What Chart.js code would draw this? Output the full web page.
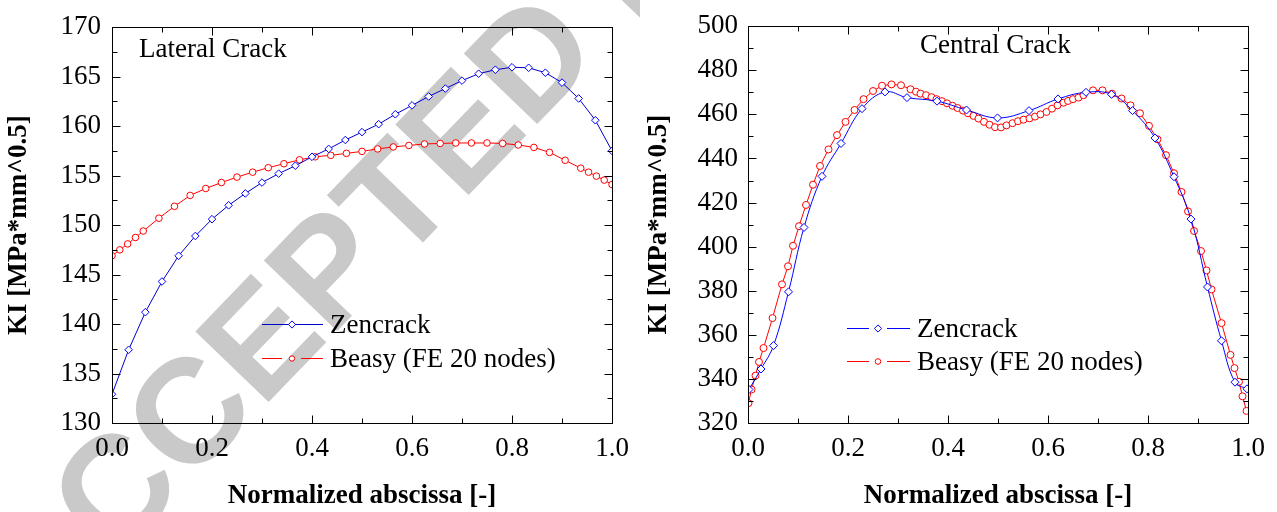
<!DOCTYPE html>
<html>
<head>
<meta charset="utf-8">
<script src="https://cdn.jsdelivr.net/npm/chart.js@4.4.1/dist/chart.umd.min.js"></script>
<style>
  html, body { margin: 0; padding: 0; background: #fff; }
  #wrap { position: relative; width: 1277px; height: 512px; overflow: hidden; background: #fff; }
  #wrap canvas { position: absolute; top: 0; }
</style>
</head>
<body>
<div id="wrap">
  <canvas id="lateral" width="640" height="512" style="left:0px"></canvas>
  <canvas id="central" width="637" height="512" style="left:640px"></canvas>
</div>
<script>
// ---- Lateral crack: KI along the normalized crack front ----
const lateralZencrackX = [0, 0.0333, 0.0667, 0.1, 0.1333, 0.1667, 0.2, 0.2333, 0.2667, 0.3, 0.3333,
  0.3667, 0.4, 0.4333, 0.4667, 0.5, 0.5333, 0.5667, 0.6, 0.6333, 0.6667, 0.7, 0.7333, 0.7667, 0.8,
  0.8333, 0.8667, 0.9, 0.9333, 0.9667, 1.0];
const lateralZencrackKI = [132.9, 137.4, 141.2, 144.3, 146.9, 148.9, 150.6, 152.0, 153.2, 154.3, 155.2,
  156.0, 156.9, 157.7, 158.6, 159.4, 160.2, 161.2, 162.1, 163.0, 163.8, 164.6, 165.3, 165.7, 165.95,
  165.9, 165.4, 164.4, 162.8, 160.6, 157.5];

const lateralBeasyX = [0, 0.0156, 0.0313, 0.0469, 0.0625, 0.0938, 0.125, 0.1563, 0.1875, 0.2188, 0.25,
  0.2813, 0.3125, 0.3438, 0.375, 0.4063, 0.4375, 0.4688, 0.5, 0.5313, 0.5625, 0.5938, 0.625, 0.6563,
  0.6875, 0.7188, 0.75, 0.7813, 0.8125, 0.8438, 0.875, 0.9063, 0.9375, 0.9531, 0.9688, 0.9844, 1.0];
const lateralBeasyKI = [146.9, 147.5, 148.1, 148.75, 149.4, 150.7, 151.9, 153.0, 153.7, 154.3, 154.85,
  155.35, 155.8, 156.2, 156.6, 156.9, 157.05, 157.25, 157.45, 157.7, 157.9, 158.05, 158.2, 158.25,
  158.3, 158.3, 158.3, 158.25, 158.1, 157.85, 157.35, 156.55, 155.75, 155.35, 154.95, 154.55, 154.1];

// ---- Central crack ----
const centralZencrackX = [0.002, 0.026, 0.051, 0.081, 0.112, 0.148, 0.186, 0.228, 0.274, 0.318, 0.378,
  0.437, 0.499, 0.562, 0.620, 0.676, 0.727, 0.769, 0.814, 0.852, 0.886, 0.919, 0.947, 0.974, 0.998];
const centralZencrackKI = [335.2, 344.5, 355.1, 379.5, 408.7, 431.9, 446.8, 462.6, 470.2, 467.6, 466.0,
  462.0, 458.4, 461.7, 467.0, 470.0, 469.1, 461.7, 449.3, 431.7, 412.5, 381.7, 357.3, 338.5, 335.5];

const centralBeasyX = [0.001, 0.007, 0.015, 0.022, 0.031, 0.049, 0.068, 0.080, 0.090, 0.102, 0.116,
  0.130, 0.144, 0.161, 0.178, 0.195, 0.213, 0.231, 0.250, 0.268, 0.287, 0.306, 0.325, 0.336, 0.345,
  0.356, 0.367, 0.377, 0.388, 0.398, 0.409, 0.419, 0.430, 0.440, 0.451, 0.461, 0.472, 0.483, 0.494,
  0.506, 0.517, 0.529, 0.540, 0.551, 0.563, 0.574, 0.585, 0.597, 0.608, 0.619, 0.631, 0.640, 0.650,
  0.661, 0.671, 0.690, 0.709, 0.728, 0.747, 0.765, 0.784, 0.802, 0.819, 0.836, 0.852, 0.867, 0.880,
  0.892, 0.906, 0.917, 0.927, 0.947, 0.965, 0.973, 0.982, 0.989, 0.997];
const centralBeasyKI = [329.0, 335.2, 341.5, 347.7, 354.0, 367.6, 382.9, 391.1, 400.4, 409.3, 418.9,
  428.1, 436.6, 444.1, 450.6, 456.6, 462.0, 466.9, 470.6, 473.0, 473.6, 473.2, 471.4, 470.3, 469.4,
  468.7, 467.8, 466.9, 466.0, 465.0, 463.9, 462.9, 461.7, 460.5, 459.3, 458.1, 456.6, 455.3, 454.2,
  454.1, 455.0, 456.0, 456.9, 457.6, 458.2, 459.0, 460.0, 461.1, 462.6, 464.1, 465.3, 466.1, 466.9,
  467.6, 468.7, 470.9, 470.9, 469.4, 467.2, 464.1, 460.5, 454.8, 448.7, 441.5, 433.3, 424.8, 416.0,
  407.1, 398.0, 389.2, 380.6, 365.3, 350.9, 344.9, 338.7, 332.1, 325.5];

const seriesNames = ['Zencrack', 'Beasy (FE 20 nodes)'];
const xTitle = 'Normalized abscissa [-]';
const yTitle = 'KI [MPa*mm^0.5]';

const SERIF = '"Liberation Serif", "Times New Roman", Times, serif';
const BLUE = '#0000ff';
const RED = '#ff0000';

const pairs = (xs, ys) => xs.map((x, i) => ({ x, y: ys[i] }));

// Inward major/minor tick marks on all four sides plus the closed frame
const frameTicks = {
  id: 'frameTicks',
  afterDatasetsDraw(chart) {
    const { ctx, chartArea: a, scales: { x, y } } = chart;
    const L = Math.round(a.left) + 0.5, R = Math.round(a.right) + 0.5;
    const T = Math.round(a.top) + 0.5, B = Math.round(a.bottom) + 0.5;
    const marks = (scale) => {
      const vals = scale.ticks.map(t => t.value);
      const out = [];
      vals.forEach((v, i) => {
        out.push([scale.getPixelForValue(v), 8]);
        if (i < vals.length - 1) out.push([scale.getPixelForValue((v + vals[i + 1]) / 2), 5]);
      });
      return out;
    };
    ctx.save();
    ctx.strokeStyle = '#000';
    ctx.lineWidth = 1;
    ctx.beginPath();
    marks(x).forEach(([p, len]) => {
      const px = Math.round(p) + 0.5;
      ctx.moveTo(px, B); ctx.lineTo(px, B - len);
      ctx.moveTo(px, T); ctx.lineTo(px, T + len);
    });
    marks(y).forEach(([p, len]) => {
      const py = Math.round(p) + 0.5;
      ctx.moveTo(L, py); ctx.lineTo(L + len, py);
      ctx.moveTo(R, py); ctx.lineTo(R - len, py);
    });
    ctx.stroke();
    ctx.strokeRect(L, T, R - L, B - T);
    ctx.restore();
  }
};

// Panel caption and symbol legend drawn inside the plot
const panelNotes = {
  id: 'panelNotes',
  afterDraw(chart, args, opts) {
    const ctx = chart.ctx;
    ctx.save();
    ctx.fillStyle = '#000';
    ctx.font = '27px ' + SERIF;
    ctx.textBaseline = 'alphabetic';
    ctx.textAlign = 'left';
    ctx.fillText(opts.caption.text, opts.caption.x, opts.caption.y);

    const lg = opts.legend;
    chart.data.datasets.forEach((ds, i) => {
      const row = lg.rows[i];
      const yy = Math.round(row.y) + 0.5;
      ctx.strokeStyle = ds.borderColor;
      ctx.lineWidth = 1;
      ctx.beginPath();
      if (row.gap) {
        ctx.moveTo(lg.x0, yy); ctx.lineTo(row.gap[0], yy);
        ctx.moveTo(row.gap[1], yy); ctx.lineTo(lg.x1, yy);
      } else {
        ctx.moveTo(lg.x0, yy); ctx.lineTo(lg.x1, yy);
      }
      ctx.stroke();
      ctx.fillStyle = '#fff';
      ctx.strokeStyle = ds.pointBorderColor;
      Chart.helpers.drawPoint(ctx, {
        pointStyle: ds.pointStyle, rotation: 0, radius: row.r, borderWidth: 1
      }, lg.marker, yy);
      ctx.fillStyle = '#000';
      ctx.fillText(ds.label, lg.textX, row.y + 9);
    });
    ctx.restore();
  }
};

// Diagonal grey "ACCEPTED MANUSCRIPT" stamp behind the lateral panel
const stamp = {
  id: 'stamp',
  beforeDraw(chart, args, opts) {
    if (!opts.text) return;
    const ctx = chart.ctx;
    ctx.save();
    ctx.fillStyle = '#c9c9c9';
    ctx.font = 'bold ' + opts.size + 'px "Liberation Sans", Arial, sans-serif';
    ctx.textBaseline = 'alphabetic';
    ctx.translate(opts.x, opts.y);
    ctx.rotate(opts.angle * Math.PI / 180);
    ctx.fillText(opts.text, 0, 0);
    ctx.restore();
  }
};

function axisOptions(yMin, yMax, yStep, yWidth, yPad) {
  return {
    x: {
      type: 'linear', min: 0, max: 1,
      ticks: {
        stepSize: 0.2, padding: 10, color: '#000', maxRotation: 0,
        font: { family: SERIF, size: 27 },
        callback: v => Number(v).toFixed(1)
      },
      grid: { display: false, drawTicks: false },
      border: { display: false },
      title: {
        display: true, text: xTitle, color: '#000',
        font: { family: SERIF, size: 27, weight: 'bold' },
        padding: { top: 0, bottom: 0 }
      },
      afterFit(s) { s.height = 89; }
    },
    y: {
      type: 'linear', min: yMin, max: yMax,
      ticks: {
        stepSize: yStep, padding: yPad, color: '#000',
        font: { family: SERIF, size: 27 }
      },
      grid: { display: false, drawTicks: false },
      border: { display: false },
      title: {
        display: true, text: yTitle, color: '#000',
        font: { family: SERIF, size: 27, weight: 'bold' },
        padding: { top: 3, bottom: 0 }
      },
      afterFit(s) { s.width = yWidth; }
    }
  };
}

const common = {
  responsive: false,
  animation: false,
  devicePixelRatio: 1,
  events: [],
  plugins: { legend: { display: false }, tooltip: { enabled: false } }
};

new Chart(document.getElementById('lateral'), {
  type: 'line',
  data: {
    datasets: [
      {
        label: seriesNames[0], data: pairs(lateralZencrackX, lateralZencrackKI),
        borderColor: '#0000cc', borderWidth: 1, tension: 0, clip: 0,
        pointStyle: 'rectRot', pointRadius: 3.8, pointBorderWidth: 1,
        pointBorderColor: BLUE, pointBackgroundColor: '#fff'
      },
      {
        label: seriesNames[1], data: pairs(lateralBeasyX, lateralBeasyKI),
        borderColor: RED, borderWidth: 1, tension: 0, clip: 0,
        pointStyle: 'circle', pointRadius: 3.3, pointBorderWidth: 1,
        pointBorderColor: RED, pointBackgroundColor: '#fff'
      }
    ]
  },
  options: Object.assign({}, common, {
    layout: { padding: { left: 0, right: 28, top: 22, bottom: 0 } },
    scales: axisOptions(130, 170, 5, 112, 11),
    plugins: Object.assign({}, common.plugins, {
      stamp: { text: 'ACCEPTED MANUSCRIPT', size: 148, x: 39, y: 640, angle: -46 },
      panelNotes: {
        caption: { text: 'Lateral Crack', x: 139, y: 57 },
        legend: {
          x0: 262, x1: 323, marker: 292, textX: 330,
          rows: [ { y: 324, gap: null, r: 3.6 }, { y: 358, gap: [282, 301], r: 2.7 } ]
        }
      }
    })
  }),
  plugins: [stamp, frameTicks, panelNotes]
});

new Chart(document.getElementById('central'), {
  type: 'line',
  data: {
    datasets: [
      {
        label: seriesNames[0], data: pairs(centralZencrackX, centralZencrackKI),
        borderColor: BLUE, borderWidth: 1, tension: 0.4, clip: 0,
        pointStyle: 'rectRot', pointRadius: 4, pointBorderWidth: 1,
        pointBorderColor: BLUE, pointBackgroundColor: '#fff'
      },
      {
        label: seriesNames[1], data: pairs(centralBeasyX, centralBeasyKI),
        borderColor: RED, borderWidth: 1, tension: 0, clip: 0,
        pointStyle: 'circle', pointRadius: 3.5, pointBorderWidth: 1,
        pointBorderColor: RED, pointBackgroundColor: '#fff'
      }
    ]
  },
  options: Object.assign({}, common, {
    layout: { padding: { left: 0, right: 29, top: 22, bottom: 0 } },
    scales: axisOptions(320, 500, 20, 108, 10),
    plugins: Object.assign({}, common.plugins, {
      stamp: { text: '' },
      panelNotes: {
        caption: { text: 'Central Crack', x: 280, y: 53 },
        legend: {
          x0: 207, x1: 270, marker: 238, textX: 277,
          rows: [ { y: 328, gap: [229, 247], r: 3.6 }, { y: 361, gap: [229, 247], r: 2.8 } ]
        }
      }
    })
  }),
  plugins: [stamp, frameTicks, panelNotes]
});
</script>
</body>
</html>
